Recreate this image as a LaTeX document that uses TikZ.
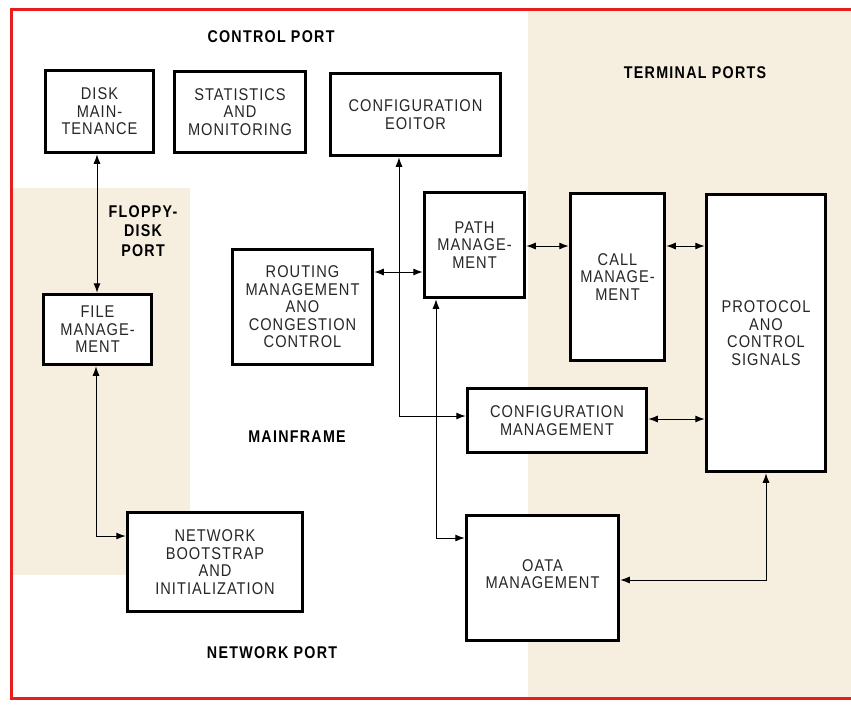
\documentclass[tikz,border=0pt]{standalone}
\usepackage{fontspec}
\setmainfont{Liberation Sans}
\newfontfamily\boxfont{Liberation Sans}[FakeStretch=0.86,LetterSpace=6]
\newfontfamily\labfont{Liberation Sans}[FakeStretch=0.84,LetterSpace=7.5]
\usetikzlibrary{arrows.meta}
\definecolor{beige}{RGB}{246,239,224}
\definecolor{borderred}{RGB}{232,30,30}
\begin{document}
\begin{tikzpicture}[x=1pt,y=-1pt,
  box/.style={draw=black, line width=3.5pt, fill=white, inner sep=0pt, align=center,
    font=\boxfont\fontsize{17}{17.5}\selectfont, text=black!85},
  lab/.style={font=\labfont\bfseries\fontsize{17}{19.5}\selectfont, align=center, text=black},
  conn/.style={line width=1pt, {Latex[length=9.5pt,width=7pt]}-{Latex[length=9.5pt,width=7pt]}},
]
\useasboundingbox (0,0) rectangle (851,704);
\fill[white] (0,0) rectangle (851,704);
\fill[beige] (12,188) rectangle (190,575);
\fill[beige] (528,10) rectangle (851,697);
\draw[borderred, line width=3pt] (851,9) -- (11,9) -- (11,698) -- (851,698);

% labels
\node[lab] (cp) at (271,37) {CONTROL PORT};
\node[lab] (tp) at (695,73) {TERMINAL PORTS};
\node[lab] (fd) at (143,231) {FLOPPY-\\DISK\\PORT};
\node[lab] (mf) at (297,437) {MAINFRAME};
\node[lab] (np) at (272,653) {NETWORK PORT};

% boxes
\node[box, minimum width=108pt, minimum height=82pt] (disk) at (99.5,111.5) {DISK\\MAIN-\\TENANCE};
\node[box, minimum width=131pt, minimum height=81pt] (stat) at (240,112) {STATISTICS\\AND\\MONITORING};
\node[box, minimum width=170pt, minimum height=82pt] (cfge) at (415.5,114.5) {CONFIGURATION\\EOITOR};
\node[box, minimum width=100pt, minimum height=105pt] (path) at (474.5,245) {PATH\\MANAGE-\\MENT};
\node[box, minimum width=94pt, minimum height=167pt] (call) at (617.5,277) {CALL\\MANAGE-\\MENT};
\node[box, minimum width=119pt, minimum height=277pt] (proto) at (766,333) {PROTOCOL\\ANO\\CONTROL\\SIGNALS};
\node[box, minimum width=179pt, minimum height=64pt] (cfgm) at (557,420.5) {CONFIGURATION\\MANAGEMENT};
\node[box, minimum width=140pt, minimum height=115pt] (route) at (302.5,307) {ROUTING\\MANAGEMENT\\ANO\\CONGESTION\\CONTROL};
\node[box, minimum width=108pt, minimum height=70pt] (file) at (97.5,329.5) {FILE\\MANAGE-\\MENT};
\node[box, minimum width=175pt, minimum height=99pt] (net) at (215,562) {NETWORK\\BOOTSTRAP\\AND\\INITIALIZATION};
\node[box, minimum width=152pt, minimum height=125pt, text depth=8pt] (data) at (542.5,578) {OATA\\MANAGEMENT};

% connector helper coordinates
\coordinate (v1) at (97,0);
\coordinate (k1) at (96,536);
\coordinate (k2) at (399,416);
\coordinate (k3) at (436,538);
\coordinate (k4) at (766,580);
\coordinate (h1) at (0,272);
\coordinate (h2) at (0,246);
\coordinate (h3) at (0,419);

\draw[conn] (disk.south -| v1) -- (file.north -| v1);
\draw[conn] (file.south -| k1) -- (k1) -- (net.west |- k1);
\draw[conn] (route.east |- h1) -- (path.west |- h1);
\draw[conn] (cfge.south -| k2) -- (k2) -- (cfgm.west |- k2);
\draw[conn] (path.south -| k3) -- (k3) -- (data.west |- k3);
\draw[conn] (path.east |- h2) -- (call.west |- h2);
\draw[conn] (call.east |- h2) -- (proto.west |- h2);
\draw[conn] (cfgm.east |- h3) -- (proto.west |- h3);
\draw[conn] (proto.south -| k4) -- (k4) -- (data.east |- k4);
\end{tikzpicture}
\end{document}
